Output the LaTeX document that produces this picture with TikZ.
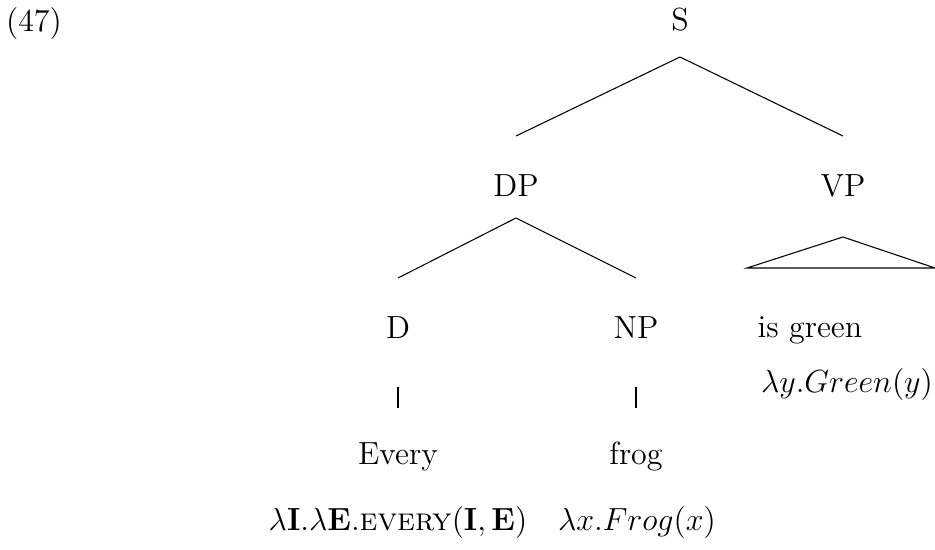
\documentclass[12pt,tikz,border=0pt]{standalone}
\usetikzlibrary{positioning}

\begin{document}
\begin{tikzpicture}[x=0.375pt,y=-0.375pt]
            \useasboundingbox (0,0) rectangle (935,550);
            % Example number
            \node (num) at (34,24) {(47)};

            % Category labels
            \node (s)  at (680,20)  {S};
            \node (dp) at (516,186) {DP};
            \node (vp) at (843,186) {VP};
            \node (d)  at (398,328) {D};
            \node (np) at (636,328) {NP};

            % Words
            \node (every) at (398,457) {Every};
            \node (frog)  at (636,457) {frog};
            \node (isgreen) at (810,330) {is green};

            % Meanings
            \node (mevery) at (398,522) {$\lambda\mathbf{I}.\lambda\mathbf{E}.\textsc{every}(\mathbf{I},\mathbf{E})$};
            \node (mfrog) at (637,522) {$\lambda x.Frog(x)$};
            \node (mgreen) at (847,384) {$\lambda y.Green(y)$};

            % Branches
            \draw (680,57) -- (516,136);
            \draw (680,57) -- (843,136);
            \draw (516,218) -- (398,278);
            \draw (516,218) -- (636,278);
            \draw (843,237) -- (747,268) -- (935,268) -- cycle;
            \draw (398,387) -- (398,408);
            \draw (636,387) -- (636,408);
        \end{tikzpicture}
\end{document}
